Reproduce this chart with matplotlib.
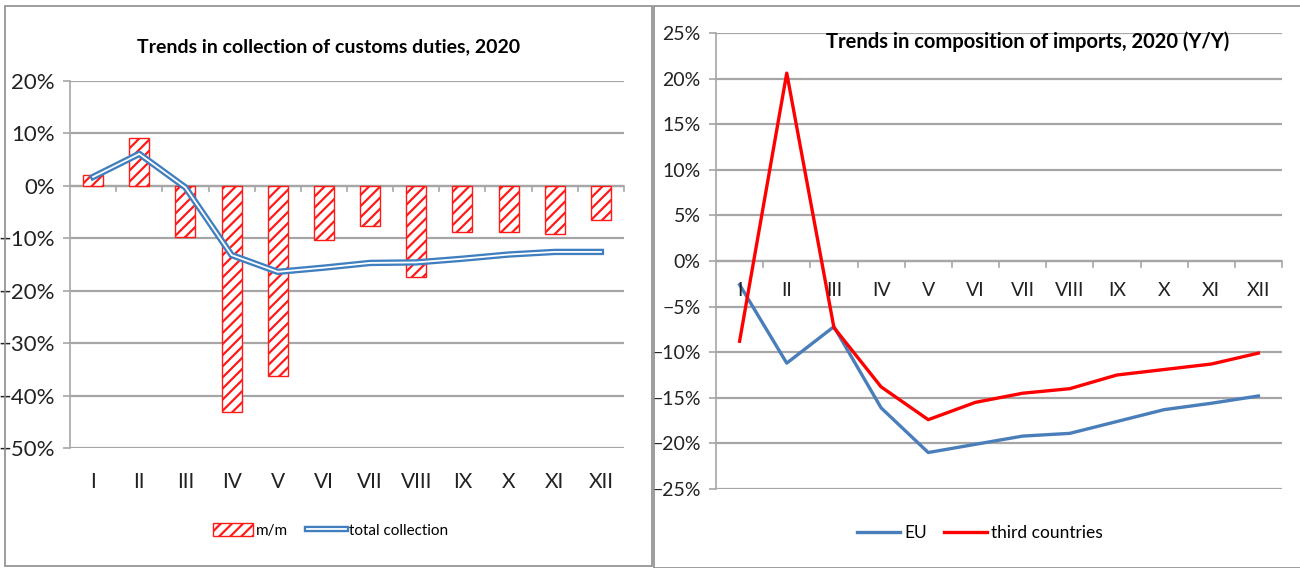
import matplotlib
matplotlib.use('Agg')
import matplotlib.pyplot as plt
import matplotlib.patheffects as pe
from matplotlib.patches import Rectangle
from matplotlib.ticker import PercentFormatter
from matplotlib.transforms import blended_transform_factory
import numpy as np

plt.rcParams['font.family'] = ['Lato', 'DejaVu Sans']
plt.rcParams['hatch.linewidth'] = 1.6

months = ['I', 'II', 'III', 'IV', 'V', 'VI', 'VII', 'VIII', 'IX', 'X', 'XI', 'XII']

# customs duties, % change
mm = [2.1, 9.2, -9.8, -43.2, -36.3, -10.3, -7.6, -17.4, -8.8, -8.8, -9.2, -6.5]
total = [1.7, 6.1, -0.3, -13.2, -16.4, -15.6, -14.7, -14.6, -13.9, -13.1, -12.6, -12.6]

# imports y/y, %
eu = [-2.6, -11.2, -7.2, -16.1, -21.0, -20.1, -19.2, -18.9, -17.6, -16.3, -15.6, -14.8]
third = [-8.8, 20.6, -7.3, -13.8, -17.4, -15.5, -14.5, -14.0, -12.5, -11.9, -11.3, -10.1]

W, H = 1300, 568
fig = plt.figure(figsize=(W / 100, H / 100), dpi=100)
grid_c = '#a6a6a6'
x = np.arange(len(months))

# panel frames
fig.add_artist(Rectangle((5 / W, 2 / H), 647 / W, 560 / H, transform=fig.transFigure,
                         fill=False, ec='#8c8c8c', lw=1.2))
fig.add_artist(Rectangle((654 / W, 0), 650 / W, 562 / H, transform=fig.transFigure,
                         fill=False, ec='#8c8c8c', lw=1.2))


def style_axes(ax, lo, hi, step):
    ax.set_ylim(lo, hi)
    ax.set_xlim(-0.5, len(months) - 0.5)
    ax.set_yticks(np.arange(lo, hi + step / 2, step))
    ax.yaxis.set_major_formatter(PercentFormatter(decimals=0))
    ax.grid(axis='y', color=grid_c, lw=1.6)
    ax.set_axisbelow(True)
    for s in ['top', 'right', 'bottom']:
        ax.spines[s].set_visible(False)
    ax.spines['left'].set_color(grid_c)
    ax.spines['left'].set_linewidth(1.2)
    ax.tick_params(axis='y', length=5, color=grid_c, width=1.2)
    # category axis sits on the zero line, ticks between months
    ax.axhline(0, color=grid_c, lw=1.6, zorder=1)
    ax.set_xticks(np.arange(-0.5, len(months)), labels=[])
    ax.tick_params(axis='x', length=0)
    for xb in np.arange(0.5, len(months)):
        ax.plot([xb, xb], [0, -(hi - lo) * 0.014], color=grid_c, lw=1.2,
                zorder=1, clip_on=False)


# left: customs duties
ax1 = fig.add_axes([70 / W, 1 - 448 / H, 554 / W, 367 / H])
style_axes(ax1, -50, 20, 10)
ax1.tick_params(axis='y', labelsize=16, pad=6, labelcolor='#222222')
bars = ax1.bar(x, mm, width=0.43, color='white', edgecolor='#ff1a1a', hatch='///',
               lw=1.0, label='m/m', zorder=2)
line, = ax1.plot(x, total, color='white', lw=1.3, zorder=3, label='total collection',
                 path_effects=[pe.Stroke(linewidth=4.6, foreground='#3f7fc0'), pe.Normal()])
tr = blended_transform_factory(ax1.transData, ax1.transAxes)
for i, m in enumerate(months):
    ax1.text(i, -0.094, m, transform=tr, ha='center', va='center', fontsize=15,
             color='#222222')
ax1.text(0.466, 1.092, 'Trends in collection of customs duties, 2020',
         transform=ax1.transAxes, ha='center', va='center', fontsize=14,
         fontweight='bold')
ax1.legend([bars, line], ['m/m', 'total collection'], loc='center',
           bbox_to_anchor=(0.471, -0.225), ncol=2, frameon=False,
           fontsize=11, handlelength=2.6, handleheight=0.9, columnspacing=1.2,
           handletextpad=0.2)

# right: composition of imports
ax2 = fig.add_axes([716 / W, 1 - 489 / H, 566 / W, 456 / H])
style_axes(ax2, -25, 25, 5)
ax2.tick_params(axis='y', labelsize=14, pad=6, labelcolor='#222222')
ax2.plot(x, eu, color='#4a7ebb', lw=2.4, label='EU', zorder=3)
ax2.plot(x, third, color='#ff0000', lw=2.4, label='third countries', zorder=3)
tr2 = blended_transform_factory(ax2.transData, ax2.transData)
for i, m in enumerate(months):
    ax2.text(i, -3.2, m, transform=tr2, ha='center', va='center', fontsize=14,
             color='#222222')
ax2.text(0.55, 0.98, 'Trends in composition of imports, 2020 (Y/Y)',
         transform=ax2.transAxes, ha='center', va='center', fontsize=14.5,
         fontweight='bold')
ax2.legend(loc='center', bbox_to_anchor=(0.466, -0.097), ncol=2, frameon=False,
           fontsize=12.5, handlelength=2.5, columnspacing=1.0, handletextpad=0.2)

fig.savefig('out.png', dpi=100)
